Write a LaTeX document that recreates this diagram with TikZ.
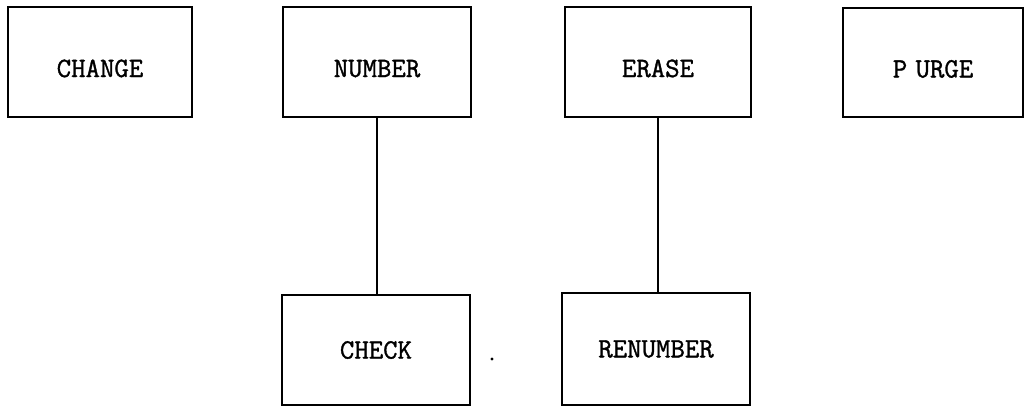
\documentclass[tikz,border=0pt]{standalone}
\usepackage{fontspec}
\newfontfamily\boxfont[FakeBold=1.2]{Latin Modern Mono}
\begin{document}
\begin{tikzpicture}[x=0.5pt,y=-0.5pt,
  box/.style={draw, line width=1.3pt, rectangle, inner sep=0pt,
    font=\fontsize{14}{16}\selectfont\boxfont},
  low/.style={text height=15pt, text depth=0pt},
  link/.style={line width=0.9pt}]
\useasboundingbox (0,0) rectangle (1026,408);
\node[box, low, minimum width=92pt, minimum height=55pt] (change) at (100,62) {CHANGE};
\node[box, low, minimum width=94pt, minimum height=55pt] (number) at (377,62) {NUMBER};
\node[box, low, minimum width=93pt, minimum height=55pt] (erase) at (658,62) {ERASE};
\node[box, low, minimum width=90pt, minimum height=54.5pt] (purge) at (933,62.5) {P\hspace{0.3em}URGE};
\node[box, minimum width=94pt, minimum height=55pt] (check) at (376,350) {CHECK};
\node[box, minimum width=94pt, minimum height=56pt] (renumber) at (656,349) {RENUMBER};
\draw[link] (number.south) -- (number.south |- check.north);
\draw[link] (erase.south) -- (erase.south |- renumber.north);
\fill (492,359) circle (0.8pt);
\end{tikzpicture}
\end{document}
